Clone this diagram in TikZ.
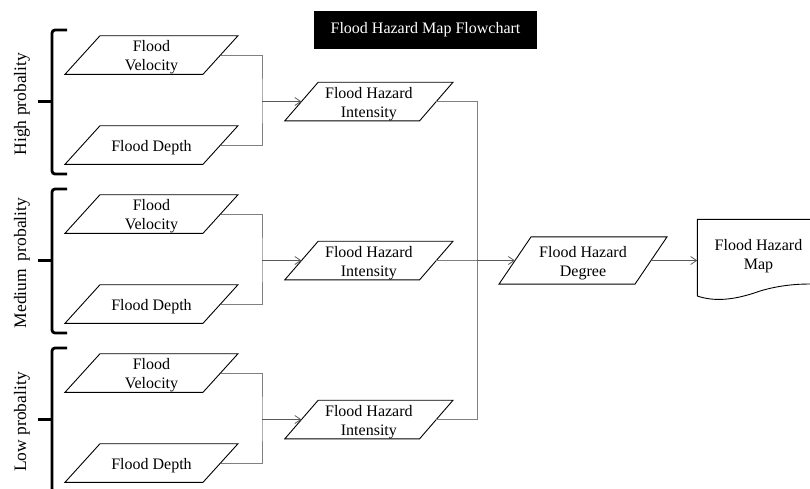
\documentclass[tikz,border=0pt]{standalone}
\usepackage{fontspec}
\setmainfont{Liberation Serif}
\usetikzlibrary{arrows.meta}
\tikzset{
  boxline/.style={draw=black, line width=0.9pt, fill=white},
  boxtext/.style={align=center, font=\fontsize{16}{19}\selectfont, inner sep=0pt, yshift=-2.5pt},
  conn/.style={draw=black!50, line width=0.8pt},
  arrowconn/.style={draw=black!65, line width=0.8pt, -{Straight Barb[length=6pt,width=8pt]}},
  bracket/.style={line width=2.8pt, rounded corners=3pt},
  grouplabel/.style={rotate=90, font=\fontsize{17.5}{20}\selectfont, inner sep=0pt},
  titlebox/.style={fill=black, text=white, minimum width=223pt, minimum height=38pt,
    font=\fontsize{16}{19}\selectfont, inner sep=0pt}
}
% name, cx, cy, half width, half height, slant half, text
\newcommand{\pbox}[7]{%
  \draw[boxline] (#2-#4+#6,#3-#5) -- (#2+#4+#6,#3-#5) -- (#2+#4-#6,#3+#5) -- (#2-#4-#6,#3+#5) -- cycle;
  \node[boxtext] (#1) at (#2,#3) {#7};
  \coordinate (#1-l) at (#2-#4,#3);
  \coordinate (#1-r) at (#2+#4,#3);
}
\begin{document}
\begin{tikzpicture}[x=1pt,y=-1pt]
\useasboundingbox (0,0) rectangle (810,488);

\node[titlebox] (title) at (425.5,30) {Flood Hazard Map Flowchart};

\foreach \n/\lab in {0/High probality,1/Medium\hspace{0.45em}probality,2/Low probality}{
  \pgfmathsetmacro\dy{159*\n}
  \pbox{vel\n}{151.5}{55+\dy}{69}{19.3}{17.5}{Flood\\Velocity}
  \pbox{dep\n}{151.5}{145+\dy}{69}{19.3}{17.5}{Flood Depth}
  \pbox{int\n}{368.9}{101.5+\dy}{67.4}{19.3}{16.7}{Flood Hazard\\Intensity}
  \coordinate (j\n) at (262,101.5+\dy);
  \draw[conn] (vel\n-r) -| (j\n) |- (dep\n-r);
  \draw[arrowconn] (j\n) -- (int\n-l);
  \draw[bracket] (67,30+\dy) -| (52,174+\dy) -- (67,174+\dy);
  \coordinate (tip\n) at (38,101.5+\dy);
  \draw[line width=2.8pt] (52,101.5+\dy) -- (tip\n);
  \node[grouplabel] (lab\n) at (22,104+\dy) {\lab};
}

\pbox{deg}{583}{260.5}{68}{23.6}{16}{Flood Hazard\\Degree}

% map (document shape, cut off at right edge)
\draw[boxline, fill=none] (810,219.3) -- (697.3,219.3) -- (697.3,296)
  .. controls (715,302) and (735,300) .. (760,291)
  .. controls (780,285) and (798,284) .. (810,284);
\node[boxtext] (map) at (758.5,254) {Flood Hazard\\Map};
\coordinate (map-l) at (697.3,260.5);

\coordinate (k) at (477,260.5);
\draw[conn] (int0-r) -| (k);
\draw[conn] (int2-r) -| (k);
\draw[conn] (int1-r) -- (k);
\draw[arrowconn] (k) -- (deg-l);
\draw[arrowconn] (deg-r) -- (map-l);
\end{tikzpicture}
\end{document}
